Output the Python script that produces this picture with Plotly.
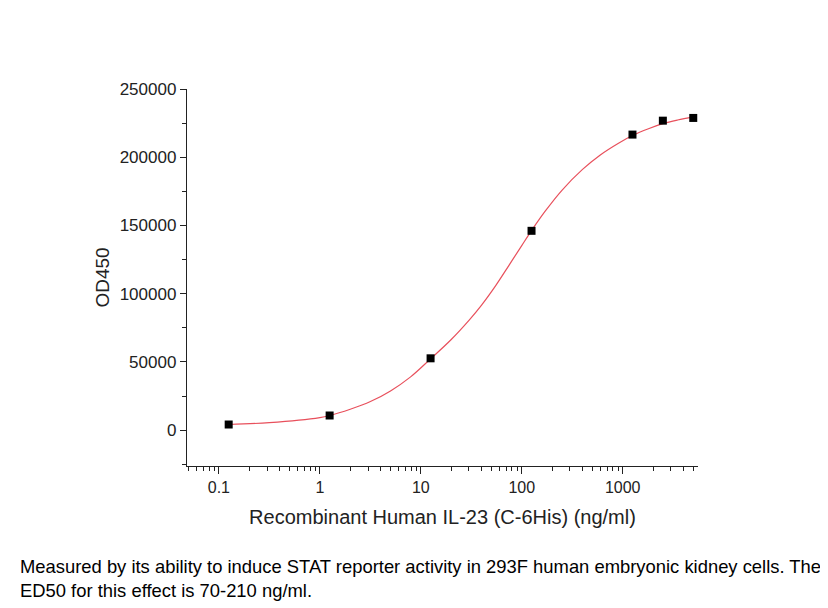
import plotly.graph_objects as go

# Measured points
conc = [0.125, 1.25, 12.5, 125, 1250, 2500, 5000]
od450 = [4200, 10800, 52700, 146100, 216600, 226800, 228800]

# Fitted curve
curve_x = [0.125, 0.316, 1, 1.25, 2, 3.17, 5.01, 7.93, 12.5, 19.8, 30, 40, 55,
           75, 100, 125, 170, 250, 400, 600, 900, 1250, 1800, 2500, 3500, 5000]
curve_y = [4200, 5600, 9300, 10800, 15400, 21000, 28800, 39100, 52300, 66100,
           80500, 91700, 105800, 121000, 135300, 146300, 160300, 175800, 191100,
           201700, 210100, 215900, 220900, 224600, 227300, 229600]

x_ticks = [0.1, 1, 10, 100, 1000]
x_labels = ["0.1", "1", "10", "100", "1000"]
y_ticks = [0, 50000, 100000, 150000, 200000, 250000]
y_labels = ["0", "50000", "100000", "150000", "200000", "250000"]

x_title = "Recombinant Human IL-23 (C-6His) (ng/ml)"
y_title = "OD450"
caption = ("Measured by its ability to induce STAT reporter activity in 293F human embryonic kidney cells. The"
           "<br>ED50 for this effect is 70-210 ng/ml.")

FONT = "Liberation Sans, Arial, sans-serif"

fig = go.Figure()
fig.add_trace(go.Scatter(x=curve_x, y=curve_y, mode="lines", line_shape="spline",
                         line=dict(color="#e8505c", width=1.2), hoverinfo="skip",
                         showlegend=False))
fig.add_trace(go.Scatter(x=conc, y=od450, mode="markers",
                         marker=dict(symbol="square", size=8, color="black",
                                     line=dict(width=0)),
                         showlegend=False))

fig.update_xaxes(type="log", range=[-1.316, 3.746], tickvals=x_ticks, ticktext=x_labels,
                 showgrid=False, zeroline=False, showline=True, linecolor="#222",
                 linewidth=1.4, ticks="outside", ticklen=7, tickwidth=1.2, tickcolor="#222",
                 minor=dict(dtick="D1", ticks="outside", ticklen=3.5, tickwidth=1.1,
                            tickcolor="#222", showgrid=False),
                 tickfont=dict(family=FONT, size=16, color="#222"),
                 title=dict(text=x_title, font=dict(family=FONT, size=20, color="#222"),
                            standoff=14))
fig.update_yaxes(range=[-26200, 250000], tickvals=y_ticks, ticktext=y_labels,
                 showgrid=False, zeroline=False, showline=True, linecolor="#222",
                 linewidth=1.4, ticks="outside", ticklen=6, tickwidth=1.2, tickcolor="#222",
                 minor=dict(dtick=25000, ticks="outside", ticklen=3.5, tickwidth=1.1,
                            tickcolor="#222", showgrid=False),
                 tickfont=dict(family=FONT, size=17, color="#222"),
                 title=dict(text=y_title, font=dict(family=FONT, size=19, color="#222"),
                            standoff=5))

fig.add_annotation(text=caption, xref="paper", yref="paper", x=-0.3307, y=-0.2995,
                   xanchor="left", yanchor="middle", align="left", showarrow=False,
                   font=dict(family=FONT, size=18.4, color="black"))

fig.update_layout(width=828, height=608, margin=dict(l=179, r=138, t=81, b=150),
                  paper_bgcolor="white", plot_bgcolor="white")

fig.write_html("out.html")
